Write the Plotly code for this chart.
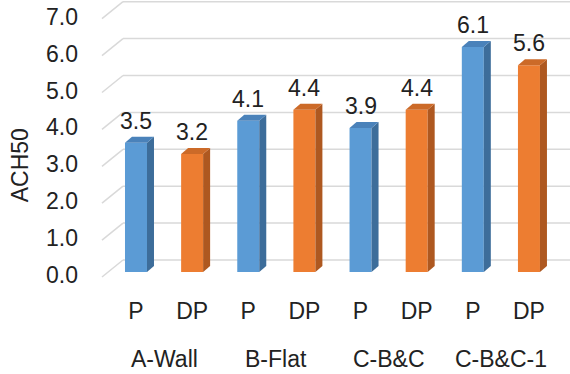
import plotly.graph_objects as go

# Air-tightness results (ACH50) per configuration and test
groups = ["A-Wall", "B-Flat", "C-B&C", "C-B&C-1"]
tests = ["P", "DP"]
p_values = [3.5, 4.1, 3.9, 6.1]
dp_values = [3.2, 4.4, 4.4, 5.6]
y_ticks = [0, 1, 2, 3, 4, 5, 6, 7]

BLUE = ("#5B9BD5", "#3D6D9A", "#4A82BA")     # front, side, top
ORANGE = ("#ED7D31", "#AE5820", "#CC6A28")

FONT = "Liberation Sans, Arial, sans-serif"
TXT = "#222222"
FS = 23

# pixel scale of the plot area (used to turn the pseudo-3D offsets into data units)
PX_X = 56.14          # pixels per bar slot
PX_Y = 36.9           # pixels per ACH50 unit
BAR_W = 22 / PX_X
DEPTH_X = 7 / PX_X
DEPTH_Y = 6 / PX_Y
BACK_DY = 12 / PX_Y   # back wall is raised above the bar plane
FRONT_DY = -5 / PX_Y  # front edge of the side wall
X_BACK = (123 - 136) / PX_X
X_FRONT = (102 - 136) / PX_X

# interleave the two tests within each group
xs, vals, cols = [], [], []
for gi, g in enumerate(groups):
    for ti, t in enumerate(tests):
        xs.append(gi * 2 + ti)
        vals.append(p_values[gi] if t == "P" else dp_values[gi])
        cols.append(BLUE if t == "P" else ORANGE)

fig = go.Figure()

# front faces
fig.add_trace(go.Bar(
    x=xs, y=vals, width=BAR_W,
    marker=dict(color=[c[0] for c in cols], line=dict(width=0)),
    showlegend=False, hoverinfo="skip",
))

# side and top faces for the 3D look
for x, v, c in zip(xs, vals, cols):
    r = x + BAR_W / 2
    l = x - BAR_W / 2
    fig.add_trace(go.Scatter(
        x=[r, r + DEPTH_X, r + DEPTH_X, r, r],
        y=[0, DEPTH_Y, v + DEPTH_Y, v, 0],
        fill="toself", fillcolor=c[1], mode="lines", line=dict(width=0),
        showlegend=False, hoverinfo="skip",
    ))
    fig.add_trace(go.Scatter(
        x=[l, r, r + DEPTH_X, l + DEPTH_X, l],
        y=[v, v, v + DEPTH_Y, v + DEPTH_Y, v],
        fill="toself", fillcolor=c[2], mode="lines", line=dict(width=0),
        showlegend=False, hoverinfo="skip",
    ))

# back-wall gridlines and side-wall diagonals
shapes = []
for t in y_ticks:
    shapes.append(dict(type="line", xref="x", yref="y", layer="below",
                       x0=X_BACK, x1=7.8, y0=t + BACK_DY, y1=t + BACK_DY,
                       line=dict(color="#D9D9D9", width=1.5)))
    shapes.append(dict(type="line", xref="x", yref="y", layer="below",
                       x0=X_FRONT, x1=X_BACK, y0=t + FRONT_DY, y1=t + BACK_DY,
                       line=dict(color="#D9D9D9", width=1.5)))

annotations = []
for x, v in zip(xs, vals):
    annotations.append(dict(x=x, y=v, xref="x", yref="y", text=f"{v:.1f}",
                            showarrow=False, yshift=22, yanchor="middle",
                            font=dict(family=FONT, size=FS, color=TXT)))
for gi, g in enumerate(groups):
    annotations.append(dict(x=gi * 2 + 0.5, y=0, xref="x", yref="paper", text=g,
                            showarrow=False, yshift=-69, yanchor="middle",
                            font=dict(family=FONT, size=FS, color=TXT)))
annotations.append(dict(x=0, y=0.43, xref="paper", yref="paper", text="ACH50",
                        textangle=-90, showarrow=False, xshift=-80,
                        xanchor="center", yanchor="middle",
                        font=dict(family=FONT, size=FS, color=TXT)))

fig.update_layout(
    width=570, height=374,
    margin=dict(l=100, r=0, t=0, b=84),
    paper_bgcolor="white", plot_bgcolor="white",
    shapes=shapes, annotations=annotations,
    xaxis=dict(range=[-0.641, 7.731], tickvals=xs,
               ticktext=[tests[i % 2] for i in range(len(xs))],
               showgrid=False, zeroline=False, showline=False, ticks="",
               ticklabelstandoff=5,
               tickfont=dict(family=FONT, size=FS, color=TXT), fixedrange=True),
    yaxis=dict(range=[-18 / PX_Y, 272 / PX_Y], tickvals=y_ticks,
               ticktext=[f"{t:.1f}" for t in y_ticks],
               showgrid=False, zeroline=False, showline=False, ticks="",
               ticklabelstandoff=21, ticklabelshift=3,
               tickfont=dict(family=FONT, size=FS, color=TXT), fixedrange=True),
)

fig.write_html("out.html")
